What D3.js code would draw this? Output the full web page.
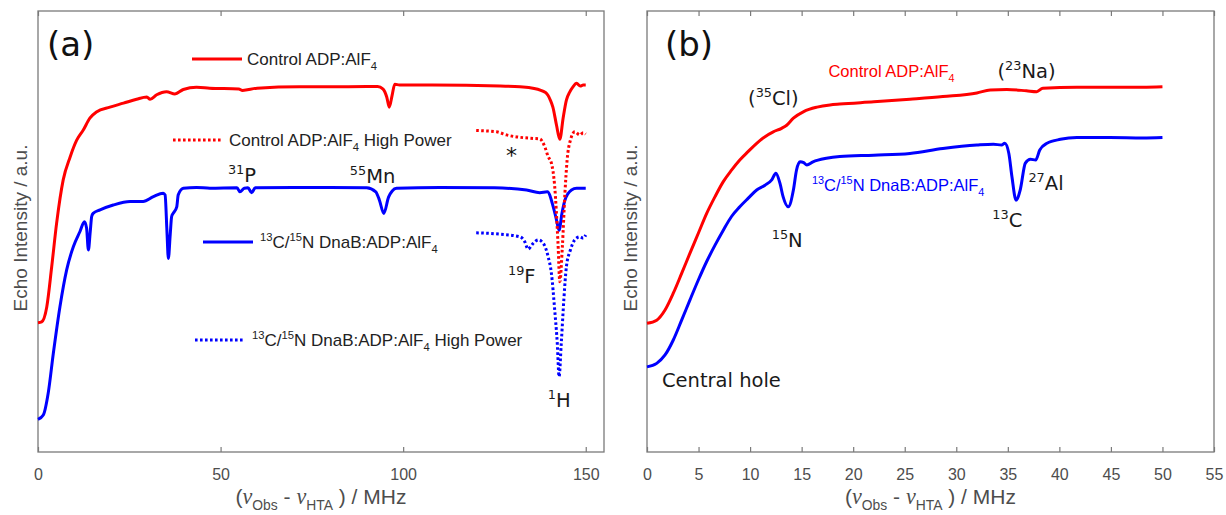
<!DOCTYPE html>
<html><head><meta charset="utf-8">
<script src="https://cdn.jsdelivr.net/npm/d3@7"></script>
<style>body{margin:0;background:#fff}svg{display:block}</style>
</head><body>
<svg id="c" width="1226" height="515"></svg>
<script>
// ---------- DATA ----------
// Panel (a): x = (nu_obs - nu_HTA) / MHz, y = echo intensity (a.u.)
const aControl = [[0,29.3],[1,29.5],[2.4,32.9],[3.75,42.0],[5.1,51.9],[6.9,61.7],[8.8,66.9],[10.6,70.7],[12.4,73.0],[14.2,75.7],[16,77.1],[19.7,78.2],[23.4,79.1],[27,80.0],[29.8,80.5],[30.7,80.0],[32.5,81.0],[35.2,81.7],[37.5,81.2],[39.8,82.2],[43.4,82.7],[47,82.5],[55,82.3],[56,82.0],[60,82.5],[71.7,82.8],[80,82.8],[90,82.9],[93,82.9],[94.5,82.3],[95.5,80.5],[96.2,78.2],[97,81.0],[97.7,83.4],[99,83.2],[108,83.2],[126.5,83.0],[132,82.8],[135.5,82.5],[139,81.5],[140.3,79.8],[141,78.2],[142,74.1],[142.9,70.9],[143.8,75.7],[144.7,79.8],[145.6,81.6],[146.5,82.8],[147.5,83.6],[148.5,83.0],[149.3,83.2],[150,83.2]];
const aControlHP = [[120,72.9],[125.6,72.6],[128.3,71.9],[135.6,71.1],[137.4,71.0],[138.8,69.2],[139.7,67.0],[140.6,65.5],[141.5,60.2],[142.4,47.4],[142.9,38.6],[143.6,46.6],[144.3,58.7],[144.9,66.2],[145.8,70.7],[147,72.6],[148.4,71.9],[149.3,72.4],[150,72.1]];
const aDnaB = [[0,7.4],[1.45,8.4],[2.8,13.4],[4.2,22.4],[6,32.9],[7.85,41.3],[9.7,46.6],[11.5,50.0],[12.7,52.2],[13.3,50.8],[13.8,45.8],[14.3,49.9],[14.7,53.4],[15.1,54.1],[17,54.9],[20.6,56.0],[25.2,56.8],[28.8,56.8],[31.6,57.9],[34.3,58.7],[34.8,58.3],[35.3,50.3],[35.7,43.9],[36.2,49.2],[36.6,53.4],[37,54.1],[38,55.6],[38.4,58.3],[39.8,59.8],[43.4,60.0],[47.1,59.8],[54.5,59.9],[55.3,59.0],[56.5,59.8],[57.5,59.9],[58.5,58.8],[59.5,59.9],[70,60.0],[80,60.0],[90,59.9],[92.5,59.0],[93.5,57.1],[94.7,54.1],[96,57.8],[97,59.2],[98.2,59.8],[110,60.0],[125,59.9],[133.8,59.4],[137.4,58.8],[139.5,59.0],[141.1,55.6],[142,52.6],[142.7,50.3],[143.5,54.2],[144.3,57.1],[146.1,59.4],[147.5,59.8],[150,59.8]];
const aDnaBHP = [[120,49.7],[126.5,49.4],[132,48.8],[133.3,47.7],[134.2,46.0],[135.6,47.3],[137,48.1],[138.4,47.3],[139.7,44.3],[140.6,40.5],[141.5,32.2],[142.2,24.7],[142.7,17.1],[143.3,24.7],[144,34.5],[144.7,42.0],[145.8,45.8],[147,48.1],[148.4,48.8],[149.3,48.5],[150,49.2]];
// Panel (b)
const bControl = [[0,29.2],[0.94,29.9],[1.75,32.2],[2.55,36.0],[3.36,40.5],[4.17,45.1],[4.98,49.6],[5.79,54.1],[6.6,57.9],[7.4,61.3],[8.2,63.9],[9.0,66.2],[9.8,68.1],[10.64,70.0],[11.45,71.5],[12.25,72.6],[13.06,73.4],[13.55,74.1],[14.2,75.7],[15.2,77.2],[16.5,78.2],[17.75,78.7],[18.7,78.9],[22,79.4],[25.5,80.0],[28.7,80.6],[32,81.4],[33.3,82.1],[34.9,82.2],[36.8,81.9],[37.8,81.7],[38.4,82.5],[41.7,82.7],[44.9,82.7],[48.1,82.7],[50,82.8]];
const bDnaB = [[0,19.3],[0.94,20.1],[1.75,22.0],[2.55,25.4],[3.36,29.9],[4.17,34.5],[4.98,39.0],[5.79,43.2],[6.6,46.9],[7.4,50.3],[8.2,53.4],[9.0,55.6],[9.8,57.5],[10.64,59.4],[11.45,60.5],[12.1,61.7],[12.5,63.2],[12.9,60.9],[13.2,57.9],[13.7,55.6],[14.2,59.4],[14.5,63.9],[14.85,65.8],[15.2,65.6],[15.5,65.1],[16.1,65.8],[17.4,66.6],[18.7,67.0],[22,67.3],[25.5,67.7],[28.7,68.8],[32,69.6],[33.6,69.8],[34.4,69.6],[34.7,70.0],[35.1,67.7],[35.4,62.4],[35.8,57.1],[36.2,59.4],[36.7,65.5],[37.2,66.4],[37.7,66.2],[38.1,68.5],[38.8,70.0],[40.1,70.9],[41.7,71.3],[44.9,71.3],[48.1,71.2],[50,71.3]];
// Ticks
const aTicks = [0, 50, 100, 150];
const bTicks = [0, 5, 10, 15, 20, 25, 30, 35, 40, 45, 50, 55];
// Legend / labels (parts: [text, kind])
const legA = [
  {parts:[["Control ADP:AlF",""],["4","sub"]], color:"#ff0000", dash:null},
  {parts:[["Control ADP:AlF",""],["4","sub"],[" High Power",""]], color:"#ff0000", dash:"2.6,2.4"},
  {parts:[["13","sup"],["C/",""],["15","sup"],["N DnaB:ADP:AlF",""],["4","sub"]], color:"#0000ff", dash:null},
  {parts:[["13","sup"],["C/",""],["15","sup"],["N DnaB:ADP:AlF",""],["4","sub"],[" High Power",""]], color:"#0000ff", dash:"2.6,2.4"}
];
const annA = [
  {x:52.0, y:61.2, parts:[["31","sup"],["P",""]]},
  {x:85.4, y:61.0, parts:[["55","sup"],["Mn",""]]},
  {x:128.7, y:38.3, parts:[["19","sup"],["F",""]]},
  {x:139.6, y:10.2, parts:[["1","sup"],["H",""]]}
];
const annB = [
  {x:9.8, y:78.7, parts:[["(",""],["35","sup"],["Cl)",""]]},
  {x:34.0, y:84.8, parts:[["(",""],["23","sup"],["Na)",""]]},
  {x:12.1, y:46.5, parts:[["15","sup"],["N",""]]},
  {x:33.5, y:51.0, parts:[["13","sup"],["C",""]]},
  {x:37.0, y:59.4, parts:[["27","sup"],["Al",""]]},
  {x:1.45, y:14.7, parts:[["Central hole",""]]}
];
const labB = [
  {x:17.6, y:85.0, color:"#ff0000", parts:[["Control ADP:AlF",""],["4","sub"]]},
  {x:16.0, y:59.2, color:"#0000ff", parts:[["13","sup"],["C/",""],["15","sup"],["N DnaB:ADP:AlF",""],["4","sub"]]}
];
const xLabelParts = [["(",""],["ν","nu"],["Obs","sub"],[" - ",""],["ν","nu"],["HTA","sub"],[" ) / MHz",""]];

// ---------- DRAW ----------
const svg = d3.select("#c");
svg.append("rect").attr("width",1226).attr("height",515).attr("fill","#fff");
const SANS = "'Liberation Sans', Arial, sans-serif";
const DJ = "'DejaVu Sans', sans-serif";
const AX = "#7a7a7a", TXT = "#4d4d4d";

function rich(sel, parts, size) {
  let shift = 0;
  parts.forEach(([t,k]) => {
    const ts = sel.append("tspan").text(t);
    let target = 0;
    if (k === "sup") { target = -0.42*size; ts.attr("font-size", size*0.66); }
    else if (k === "sub") { target = 0.28*size; ts.attr("font-size", size*0.66); }
    else if (k === "nu") { ts.attr("font-family","'Liberation Serif', serif").attr("font-style","italic").attr("font-size", size*1.05); }
    if (target - shift !== 0) ts.attr("dy", target - shift);
    shift = target;
  });
}

const y = d3.scaleLinear().domain([0,100]).range([452, 11]);
const panels = [
  {x: d3.scaleLinear().domain([0,155]).range([38,604]), ticks:aTicks, ylabX:27, label:"(a)", labX:47,
   series:[[aControl,"#ff0000",null],[aDnaB,"#0000ff",null],[aDnaBHP,"#0000ff","2.6,2.4"],[aControlHP,"#ff0000","2.6,2.4"]]},
  {x: d3.scaleLinear().domain([0,55]).range([647,1214]), ticks:bTicks, ylabX:637, label:"(b)", labX:665,
   series:[[bControl,"#ff0000",null],[bDnaB,"#0000ff",null]]}
];

panels.forEach((p, i) => {
  const g = svg.append("g");
  const [x0,x1] = p.x.range();
  const bot = g.append("g").attr("transform",`translate(0,452)`)
    .call(d3.axisBottom(p.x).tickValues(p.ticks).tickSizeInner(-5).tickSizeOuter(0).tickPadding(16.5).tickFormat(d3.format("d")));
  const top = g.append("g").attr("transform",`translate(0,11)`)
    .call(d3.axisTop(p.x).tickValues(p.ticks).tickSizeInner(-5).tickSizeOuter(0).tickFormat(""));
  [bot, top].forEach(a => {
    a.select(".domain").remove();
    a.selectAll(".tick line").attr("stroke", AX).attr("stroke-width",1.2);
    a.selectAll(".tick text").attr("fill", TXT).attr("font-family", SANS).attr("font-size",16);
  });
  g.append("rect").attr("x",x0).attr("y",11).attr("width",x1-x0).attr("height",441)
    .attr("fill","none").attr("stroke",AX).attr("stroke-width",1.3);

  const line = d3.line().x(d=>p.x(d[0])).y(d=>y(d[1])).curve(d3.curveMonotoneX);
  p.series.forEach(([data,color,dash]) => {
    g.append("path").datum(data).attr("d",line).attr("fill","none")
      .attr("stroke",color).attr("stroke-width",3).attr("stroke-linejoin","round")
      .attr("stroke-dasharray",dash);
  });

  g.append("text").attr("transform",`translate(${p.ylabX},228) rotate(-90)`)
    .attr("text-anchor","middle").attr("font-family",SANS).attr("font-size",19).attr("fill",TXT)
    .text("Echo Intensity / a.u.");
  const xl = g.append("text").attr("x",(x0+x1)/2).attr("y",504).attr("text-anchor","middle")
    .attr("font-family",SANS).attr("font-size",21).attr("fill",TXT);
  rich(xl, xLabelParts, 21);
  g.append("text").attr("x",p.labX).attr("y",56).attr("font-family",DJ).attr("font-size",34).attr("fill","#111").text(p.label);
});

const xa = panels[0].x, xb = panels[1].x;
const legPos = [{lx:192,ly:59,tx:247},{lx:173,ly:140,tx:229},{lx:203,ly:242,tx:260},{lx:195,ly:340,tx:252}];
legA.forEach((l,i) => {
  const q = legPos[i];
  svg.append("line").attr("x1",q.lx).attr("x2",q.lx+50).attr("y1",q.ly).attr("y2",q.ly)
    .attr("stroke",l.color).attr("stroke-width",3).attr("stroke-dasharray",l.dash);
  const t = svg.append("text").attr("x",q.tx).attr("y",q.ly+6).attr("font-family",SANS).attr("font-size",17).attr("fill","#222");
  rich(t, l.parts, 17);
});
svg.append("text").attr("x",xa(129.7)).attr("y",y(65.5)).attr("text-anchor","middle")
  .attr("font-family",DJ).attr("font-size",22).attr("fill","#111").text("*");
annA.forEach(a => {
  const t = svg.append("text").attr("x",xa(a.x)).attr("y",y(a.y)).attr("font-family",DJ).attr("font-size",19.5).attr("fill","#1a1a1a");
  rich(t, a.parts, 19.5);
});
annB.forEach(a => {
  const t = svg.append("text").attr("x",xb(a.x)).attr("y",y(a.y)).attr("font-family",DJ).attr("font-size",19.5).attr("fill","#1a1a1a");
  rich(t, a.parts, 19.5);
});
labB.forEach(a => {
  const t = svg.append("text").attr("x",xb(a.x)).attr("y",y(a.y)).attr("font-family",SANS).attr("font-size",16.5).attr("fill",a.color);
  rich(t, a.parts, 16.5);
});
</script>
</body></html>
